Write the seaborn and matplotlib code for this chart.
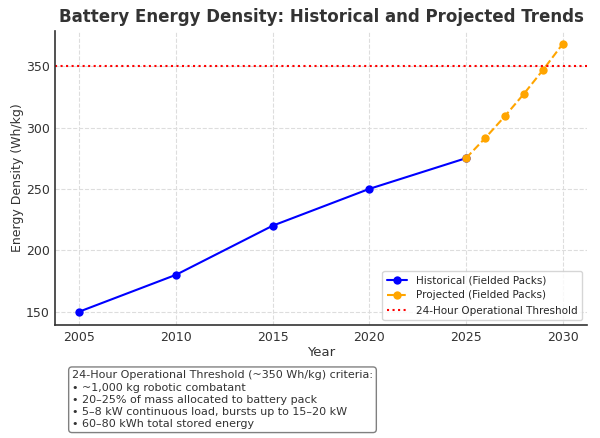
import matplotlib
matplotlib.use("Agg")
import matplotlib.pyplot as plt
import seaborn as sns
import pandas as pd

# values
hist_years = [2005, 2010, 2015, 2020, 2025]
hist_density = [150, 180, 220, 250, 275]
proj_years = [2025, 2026, 2027, 2028, 2029, 2030]
proj_density = [275, 291.5, 309.0, 327.5, 347.2, 368.0]
threshold = 350

criteria = [
    "24-Hour Operational Threshold (~350 Wh/kg) criteria:",
    "\u2022 ~1,000 kg robotic combatant",
    "\u2022 20\u201325% of mass allocated to battery pack",
    "\u2022 5\u20138 kW continuous load, bursts up to 15\u201320 kW",
    "\u2022 60\u201380 kWh total stored energy",
]

hist = pd.DataFrame({"Year": hist_years, "Density": hist_density})
proj = pd.DataFrame({"Year": proj_years, "Density": proj_density})

sns.set_style("ticks")
plt.rcParams["font.family"] = ["DejaVu Sans"]

fig, ax = plt.subplots(figsize=(6, 4.38), dpi=100)
fig.subplots_adjust(left=0.092, right=0.978, top=0.93, bottom=0.258)

sns.lineplot(data=hist, x="Year", y="Density", ax=ax, color="blue", marker="o",
             markersize=6, markeredgewidth=0, linewidth=1.5,
             label="Historical (Fielded Packs)")
sns.lineplot(data=proj, x="Year", y="Density", ax=ax, color="orange", marker="o",
             markersize=6, markeredgewidth=0, linewidth=1.5, linestyle="--",
             label="Projected (Fielded Packs)")
ax.axhline(threshold, color="red", linestyle=":", linewidth=1.5,
           label="24-Hour Operational Threshold")

ax.set_title("Battery Energy Density: Historical and Projected Trends",
             fontsize=12, fontweight="bold", color="#333333")
ax.set_xlabel("Year", fontsize=9.5, color="#333333", labelpad=2)
ax.set_ylabel("Energy Density (Wh/kg)", fontsize=9, color="#333333", labelpad=1)
ax.set_xticks([2005, 2010, 2015, 2020, 2025, 2030])
ax.set_yticks([150, 200, 250, 300, 350])
ax.tick_params(labelsize=9, colors="#333333", length=0, pad=4)
ax.grid(True, linestyle="--", color="#dddddd", linewidth=0.8)
sns.despine(ax=ax)
for side in ("left", "bottom"):
    ax.spines[side].set_color("#333333")
    ax.spines[side].set_linewidth(1.2)

ax.legend(loc="lower right", fontsize=7.5)

fig.text(0.12, 0.02, "\n".join(criteria), fontsize=8, color="#333333",
         ha="left", va="bottom", linespacing=1.28,
         bbox=dict(boxstyle="round,pad=0.3", facecolor="white", edgecolor="gray"))

fig.savefig("out.png", dpi=100)
